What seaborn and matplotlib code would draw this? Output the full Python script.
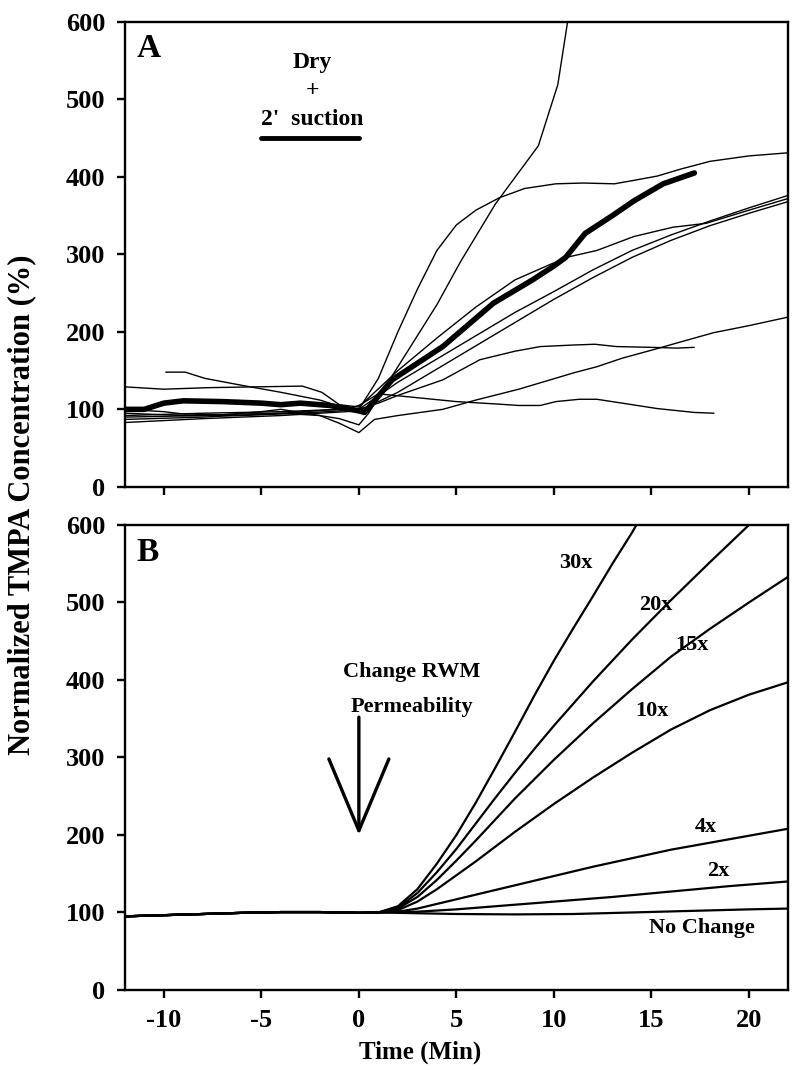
import matplotlib
matplotlib.use("Agg")
import matplotlib.pyplot as plt
import numpy as np
import pandas as pd
import seaborn as sns

# ---- panel A: measured runs (time in min, % of baseline) ----
run_steep_t = [-12, -10, -8, -6, -4, -2, -1, 0, 0.5, 2, 4, 5.2, 7, 9.2, 10.2, 10.7, 11.2]
run_steep_v = [90, 91, 92, 94, 95, 92, 88, 80, 95, 155, 235, 290, 365, 440, 519, 600, 680]
run_sat_t = [-9.9, -8.9, -7.9, -6, -4, -2, -1, 0, 1, 2, 3, 4, 5, 6, 7.2, 8.5, 10.1, 11.5, 13.1, 14, 15.3, 16.5, 18, 20, 22]
run_sat_v = [148, 148, 140, 131, 122, 112, 104, 100, 140, 200, 255, 305, 338, 357, 373, 385, 391, 392, 391, 395, 401, 410, 420, 427, 431]
run_c_t = [-12, -10, -7.7, -2.9, -1.9, -1, 0, 2, 4, 6, 8, 9.9, 10.8, 12.2, 14.1, 16.1, 17.8, 20, 22]
run_c_v = [129, 126, 128, 130, 122, 106, 103, 150, 192, 232, 267, 288, 297, 305, 323, 335, 340, 357, 372]
run_d_t = [-12, -8, -4, -1, 0, 2, 4, 6, 8, 10, 12, 14, 16, 18, 20, 22]
run_d_v = [87, 90, 95, 100, 100, 135, 165, 195, 225, 252, 280, 305, 325, 343, 360, 376]
run_e_t = [-12, -8, -4, 0, 2, 4, 6, 8, 10, 12, 14, 16, 18, 20, 22]
run_e_v = [83, 88, 92, 98, 122, 152, 182, 212, 242, 270, 296, 318, 337, 353, 368]
run_f_t = [-12, -8, -4, -1, 0, 1, 2, 4.3, 6.2, 8, 9.3, 11, 12.1, 13.2, 15, 16.3, 17.2]
run_f_v = [92, 95, 97, 100, 100, 108, 118, 138, 164, 175, 181, 183, 184, 181, 180, 179, 180]
run_g_t = [-12, -10, -9, -7, -5, -4, -2, -1, 0, 0.8, 2, 4.3, 6, 8.2, 9.4, 11, 12.2, 13.5, 15.1, 16.5, 18.2, 20, 22]
run_g_v = [100, 97, 94, 93, 97, 100, 92, 82, 70, 87, 92, 100, 112, 126, 135, 147, 155, 166, 177, 187, 199, 208, 219]
run_h_t = [-12, -9, -6, -3, -1, 0, 1, 3, 5, 7, 8.2, 9.3, 10.1, 11.3, 12.2, 13.5, 15.3, 17.2, 18.2]
run_h_v = [95, 92, 92, 95, 98, 105, 120, 115, 110, 107, 105, 105, 110, 113, 113, 108, 101, 96, 95]
# mean (thick line)
mean_t = [-12, -11, -10, -9, -7, -5, -4, -3, -1.5, 0, 0.3, 1.7, 4.3, 6.9, 8.9, 10, 10.6, 11.6, 13, 14.1, 15.6, 17.2]
mean_v = [100, 100, 108, 111, 110, 108, 106, 108, 105, 98, 96, 138, 181, 237, 267, 285, 296, 327, 350, 369, 391, 405]

suction_start, suction_end, suction_level = -5, 0, 450

# ---- panel B: model curves ----
base_t = [-12, -10, -8, -6, -4, -2, 0, 1]
base_v = [95, 96.5, 98, 99.5, 100.5, 100.5, 99.5, 100]
model_t = {
    "30x": [1, 2, 3, 4, 5, 6, 7, 8, 9, 10, 11, 12, 13, 14, 14.5],
    "20x": [1, 2, 3, 4, 5, 6, 7, 8, 9, 10, 12, 14, 16, 18, 20, 20.5],
    "15x": [1, 2, 3, 4, 5, 6, 7, 8, 9, 10, 12, 14, 16, 18, 20, 22],
    "10x": [1, 2, 3, 4, 5, 6, 7, 8, 9, 10, 12, 14, 16, 18, 20, 22],
    "4x": [1, 2, 3, 4, 5, 6, 8, 10, 12, 14, 16, 18, 20, 22],
    "2x": [1, 3, 5, 7, 10, 13, 16, 19, 22],
    "No Change": [1, 3, 5, 8, 11, 14, 17, 20, 22],
}
model_v = {
    "30x": [100, 108, 130, 163, 200, 242, 287, 333, 380, 425, 467, 508, 550, 590, 612],
    "20x": [100, 106, 125, 152, 182, 215, 248, 280, 311, 341, 398, 452, 503, 552, 600, 612],
    "15x": [100, 105, 120, 142, 167, 193, 220, 247, 272, 297, 344, 388, 430, 466, 500, 533],
    "10x": [100, 103, 114, 130, 148, 166, 185, 204, 222, 240, 274, 306, 336, 361, 381, 397],
    "4x": [100, 101, 105, 111, 117, 123, 135, 147, 159, 170, 181, 190, 199, 208],
    "2x": [100, 101, 104, 108, 114, 120, 127, 134, 140],
    "No Change": [100, 99, 98, 97.5, 98, 100, 102, 104, 105],
}
label_pos = {
    "30x": (11.1, 551), "20x": (15.2, 497), "15x": (17.1, 445), "10x": (15.0, 360),
    "4x": (17.8, 210), "2x": (18.4, 153), "No Change": (17.6, 80),
}

sns.set_theme(style="ticks")
plt.rcParams["font.family"] = ["Liberation Serif", "DejaVu Serif"]
plt.rcParams["font.weight"] = "bold"
plt.rcParams["text.color"] = "black"
plt.rcParams["axes.unicode_minus"] = False
plt.rcParams["axes.linewidth"] = 1.7
plt.rcParams["xtick.major.width"] = 1.7
plt.rcParams["ytick.major.width"] = 1.7
plt.rcParams["xtick.major.size"] = 6
plt.rcParams["ytick.major.size"] = 6
plt.rcParams["xtick.color"] = "black"
plt.rcParams["ytick.color"] = "black"
plt.rcParams["axes.edgecolor"] = "black"

runs = [(run_steep_t, run_steep_v), (run_sat_t, run_sat_v), (run_c_t, run_c_v),
        (run_d_t, run_d_v), (run_e_t, run_e_v), (run_f_t, run_f_v),
        (run_g_t, run_g_v), (run_h_t, run_h_v)]
df_a = pd.concat([pd.DataFrame({"t": t, "v": v, "run": i}) for i, (t, v) in enumerate(runs)])
df_mean = pd.DataFrame({"t": mean_t, "v": mean_v})

rows = []
for name in model_t:
    t = base_t[:-1] + model_t[name]
    v = base_v[:-1] + model_v[name]
    rows.append(pd.DataFrame({"t": t, "v": v, "curve": name}))
df_b = pd.concat(rows)

fig = plt.figure(figsize=(8, 10.7), dpi=100)
ax_a = fig.add_axes([0.156, 0.545, 0.829, 0.4346])
ax_b = fig.add_axes([0.156, 0.0748, 0.829, 0.4346])

sns.lineplot(data=df_a, x="t", y="v", units="run", estimator=None, color="black",
             lw=1.0, ax=ax_a, legend=False)
sns.lineplot(data=df_mean, x="t", y="v", color="black", lw=4.0, ax=ax_a,
             solid_capstyle="round")
ax_a.plot([suction_start, suction_end], [suction_level, suction_level], color="black",
          lw=3.5, solid_capstyle="round")
ax_a.text(-2.4, 547, "Dry", ha="center", va="center", fontsize=17, fontweight="bold")
ax_a.text(-2.4, 511, "+", ha="center", va="center", fontsize=17)
ax_a.text(-2.4, 474, "2'  suction", ha="center", va="center", fontsize=17, fontweight="bold")
ax_a.text(0.018, 0.975, "A", transform=ax_a.transAxes, ha="left", va="top",
          fontsize=24, fontweight="bold")

sns.lineplot(data=df_b, x="t", y="v", units="curve", estimator=None, color="black",
             lw=1.6, ax=ax_b, legend=False)
for name, (x, y) in label_pos.items():
    ax_b.text(x, y, name, ha="center", va="center", fontsize=16, fontweight="bold")
ax_b.text(2.7, 410, "Change RWM", ha="center", va="center", fontsize=16, fontweight="bold")
ax_b.text(2.7, 365, "Permeability", ha="center", va="center", fontsize=16, fontweight="bold")
ax_b.annotate("", xy=(0, 200), xytext=(0, 352),
              arrowprops=dict(arrowstyle="->,head_length=4.3,head_width=1.8", lw=2.4,
                              color="black", shrinkA=0, shrinkB=0))
ax_b.text(0.018, 0.975, "B", transform=ax_b.transAxes, ha="left", va="top",
          fontsize=24, fontweight="bold")

for ax in (ax_a, ax_b):
    ax.set_xlim(-12, 22)
    ax.set_ylim(0, 600)
    ax.set_xticks([-10, -5, 0, 5, 10, 15, 20])
    ax.set_yticks([0, 100, 200, 300, 400, 500, 600])
    ax.set_xlabel("")
    ax.set_ylabel("")
    ax.tick_params(labelsize=19, pad=8)
    for lab in ax.get_xticklabels() + ax.get_yticklabels():
        lab.set_fontweight("bold")
ax_a.set_xticklabels([])

fig.text(0.027, 1 - 505 / 1070, "Normalized TMPA Concentration (%)", rotation=90,
         ha="center", va="center", fontsize=22, fontweight="bold")
fig.text(420 / 800, 1 - 1052 / 1070, "Time (Min)", ha="center", va="center",
         fontsize=18, fontweight="bold")

fig.savefig("out.png", dpi=100)
